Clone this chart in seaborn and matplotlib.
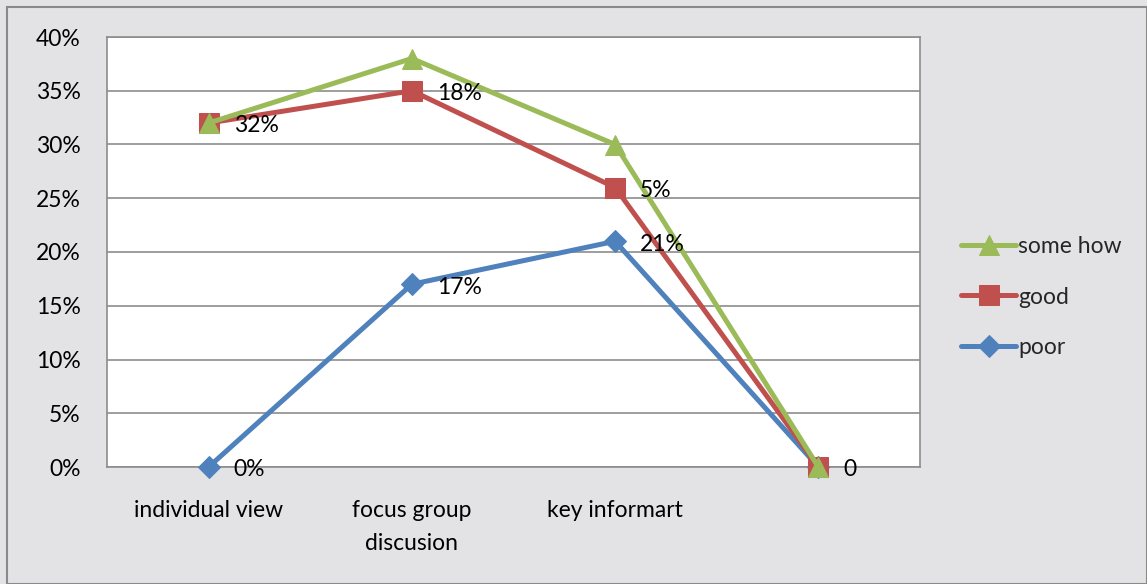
import matplotlib
matplotlib.use("Agg")
import matplotlib.pyplot as plt
import seaborn as sns
import pandas as pd
from matplotlib.patches import Rectangle
from matplotlib.ticker import FuncFormatter

categories = ["individual view", "focus group\ndiscusion", "key informart", ""]
some_how = [0.32, 0.38, 0.30, 0.0]
good = [0.32, 0.35, 0.26, 0.0]
poor = [0.0, 0.17, 0.21, 0.0]

# data labels as printed in the chart: (series, category index, text)
data_labels = [
    ("good", 0, "32%"),
    ("good", 1, "18%"),
    ("good", 2, "5%"),
    ("poor", 2, "21%"),
    ("poor", 1, "17%"),
    ("poor", 0, "0%"),
    ("good", 3, "0"),
]

series = {"some how": some_how, "good": good, "poor": poor}
colors = {"some how": "#9BBB59", "good": "#C0504D", "poor": "#4F81BD"}
markers = {"some how": "^", "good": "s", "poor": "D"}
msizes = {"some how": 14, "good": 14, "poor": 11}

FS = 16.5

sns.set_theme(style="white")
plt.rcParams["font.family"] = ["Lato", "DejaVu Sans"]

fig = plt.figure(figsize=(11.47, 5.84), dpi=100)
fig.patch.set_facecolor("#e3e3e5")
fig.patches.append(Rectangle((7 / 1147, 0), 1 - 7 / 1147, 1 - 7 / 584,
                             transform=fig.transFigure, fill=False,
                             edgecolor="#8a8a8a", linewidth=1.5))

ax = fig.add_axes([107 / 1147, (584 - 467) / 584, (920 - 107) / 1147, (467 - 37) / 584])
ax.set_facecolor("white")

rows = []
for name, vals in series.items():
    for i, v in enumerate(vals):
        rows.append({"series": name, "x": i, "value": v})
df = pd.DataFrame(rows)

draw_order = ["poor", "good", "some how"]
for z, name in enumerate(draw_order):
    sub = df[df["series"] == name]
    sns.lineplot(data=sub, x="x", y="value", ax=ax, color=colors[name],
                 marker=markers[name], markersize=msizes[name],
                 markeredgecolor=colors[name], linewidth=3.6,
                 label=name, zorder=3 + z, clip_on=False)

for name, idx, text in data_labels:
    ax.annotate(text, xy=(idx, series[name][idx]), xytext=(25, -3),
                textcoords="offset pixels", ha="left", va="center",
                fontsize=FS, color="black", zorder=10)

ax.set_xlim(-0.5, 3.5)
ax.set_ylim(0, 0.40)
ax.set_yticks([i * 0.05 for i in range(9)])
ax.yaxis.set_major_formatter(FuncFormatter(lambda v, p: f"{v * 100:.0f}%"))
ax.set_xticks(range(len(categories)))
ax.set_xticklabels(categories, linespacing=1.7)
ax.tick_params(axis="y", length=0, pad=19, labelsize=FS, colors="black")
ax.tick_params(axis="x", length=0, pad=24, labelsize=FS, colors="black")
ax.grid(axis="y", color="#8c8c8c", linewidth=1.2)
ax.set_axisbelow(True)
ax.set_xlabel("")
ax.set_ylabel("")
for s in ax.spines.values():
    s.set_visible(True)
    s.set_color("#8c8c8c")
    s.set_linewidth(1.2)

handles, labels = ax.get_legend_handles_labels()
order = [labels.index(n) for n in ["some how", "good", "poor"]]
ax.legend([handles[i] for i in order], [labels[i] for i in order],
          loc="center left", bbox_to_anchor=(961 / 1147, (584 - 297) / 584),
          bbox_transform=fig.transFigure, frameon=False, fontsize=FS,
          handlelength=2.4, handletextpad=0.1, labelspacing=1.3,
          borderaxespad=0, borderpad=0)

fig.savefig("out.png", dpi=100, facecolor=fig.get_facecolor())
